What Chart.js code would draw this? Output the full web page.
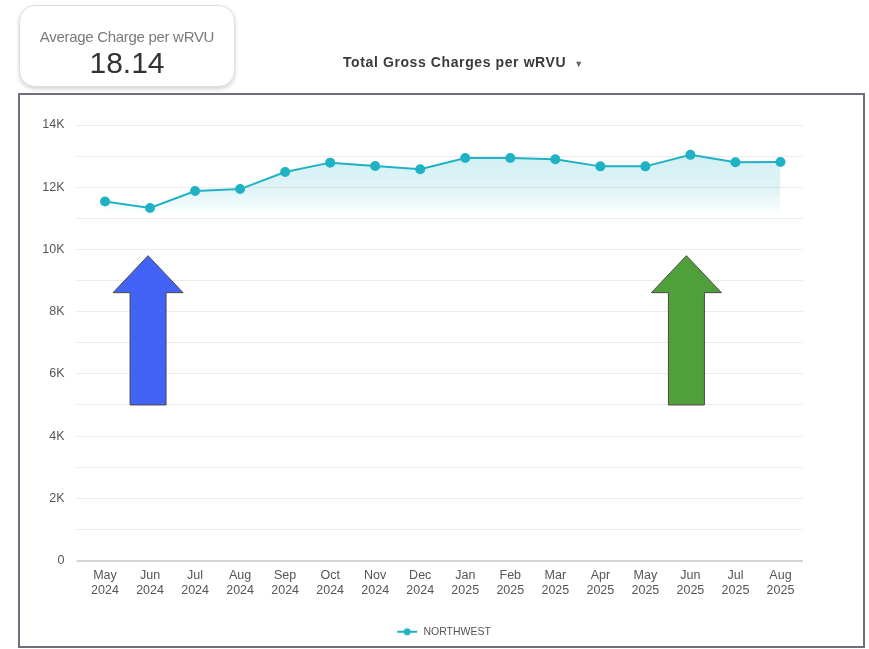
<!DOCTYPE html>
<html>
<head>
<meta charset="utf-8">
<script src="https://cdn.jsdelivr.net/npm/chart.js@4"></script>
<style>
  body { margin: 0; background: #fff; font-family: "Liberation Sans", Arial, sans-serif; }
  #wrap { position: relative; width: 869px; height: 649px; overflow: hidden; }
  #myChart { position: absolute; left: 0; top: 0; }
  .card {
    position: absolute; left: 19px; top: 5px; width: 214px; height: 80px;
    border: 1px solid #dedede; border-radius: 16px; background: #fff;
    box-shadow: 0 2px 4px rgba(0,0,0,0.18); text-align: center;
  }
  .card .lbl { margin-top: 22px; font-size: 15px; letter-spacing: -0.3px; color: #7a7a7a; }
  .card .val { margin-top: 2px; font-size: 30px; color: #333; line-height: 32px; }
  .title { position: absolute; left: 343px; top: 54px; font-size: 14px; letter-spacing: 0.6px; font-weight: bold; color: #3a3a3a; }
  .title span { font-size: 9px; margin-left: 8px; color: #666; }
  .box { position: absolute; left: 18px; top: 93px; width: 843px; height: 551px; border: 2px solid #6f6f7d; pointer-events: none; }
</style>
</head>
<body>
<div id="wrap">
  <canvas id="myChart" width="869" height="649"></canvas>
  <div class="card"><div class="lbl">Average Charge per wRVU</div><div class="val">18.14</div></div>
  <div class="title">Total Gross Charges per wRVU<span>▼</span></div>
  <div class="box"></div>
</div>
<script>
const months = ['May','Jun','Jul','Aug','Sep','Oct','Nov','Dec','Jan','Feb','Mar','Apr','May','Jun','Jul','Aug'];
const years = ['2024','2024','2024','2024','2024','2024','2024','2024','2025','2025','2025','2025','2025','2025','2025','2025'];
const northwest = [11540, 11330, 11880, 11940, 12490, 12790, 12680, 12580, 12940, 12940, 12900, 12670, 12670, 13040, 12800, 12810];
const arrowIndex = [1, 13];
const arrowTop = 9800;
const arrowBottom = 5000;
const arrowColors = ['#4263f6', '#4f9f3a'];

const labels = months.map((m, i) => [m, years[i]]);

// little line+dot marker for the legend
function legendMarker(){
    const c = document.createElement('canvas');
    c.width = 22; c.height = 10;
    const g = c.getContext('2d');
    g.strokeStyle = '#1fb2c4'; g.lineWidth = 2;
    g.beginPath(); g.moveTo(1, 5); g.lineTo(21, 5); g.stroke();
    g.fillStyle = '#1fb2c4';
    g.beginPath(); g.arc(11, 5, 3.5, 0, Math.PI * 2); g.fill();
    return c;
}

const arrows = {
    id: 'arrows',
    afterDatasetsDraw(chart){
        const ctx = chart.ctx;
        const x = chart.scales.x, y = chart.scales.y;
        arrowIndex.forEach((idx, k) => {
            const cx = x.getPixelForValue(idx) - 2 - k * 2;
            const top = y.getPixelForValue(arrowTop);
            const bot = y.getPixelForValue(arrowBottom);
            const headH = 37, headW = 35, shaftW = 18;
            ctx.save();
            ctx.beginPath();
            ctx.moveTo(cx, top);
            ctx.lineTo(cx + headW, top + headH);
            ctx.lineTo(cx + shaftW, top + headH);
            ctx.lineTo(cx + shaftW, bot);
            ctx.lineTo(cx - shaftW, bot);
            ctx.lineTo(cx - shaftW, top + headH);
            ctx.lineTo(cx - headW, top + headH);
            ctx.closePath();
            ctx.fillStyle = arrowColors[k];
            ctx.fill();
            ctx.strokeStyle = '#4a4a4a';
            ctx.lineWidth = 1;
            ctx.stroke();
            ctx.restore();
        });
    }
};

// legend sits centred under the whole box, not just the plot
const shiftLegend = {
    id: 'shiftLegend',
    afterLayout(chart){
        chart.legend.left += 42;
        chart.legend.right += 42;
    }
};

function createChart(){
    const ctx = document.getElementById('myChart');
    new Chart(ctx, {
        type: 'line',
        data: {
            labels: labels,
            datasets: [{
                label: 'NORTHWEST',
                data: northwest,
                borderColor: '#1fb2c4',
                borderWidth: 2,
                pointBackgroundColor: '#1fb2c4',
                pointBorderColor: '#1fb2c4',
                pointRadius: 4,
                tension: 0,
                fill: 'origin',
                backgroundColor: (c) => {
                    const area = c.chart.chartArea;
                    if (!area) return 'rgba(31,178,196,0.15)';
                    const y = c.chart.scales.y;
                    const grad = c.chart.ctx.createLinearGradient(0, y.getPixelForValue(13000), 0, y.getPixelForValue(11100));
                    grad.addColorStop(0, 'rgba(31,178,196,0.2)');
                    grad.addColorStop(0.6, 'rgba(31,178,196,0.13)');
                    grad.addColorStop(1, 'rgba(31,178,196,0)');
                    return grad;
                }
            }]
        },
        options: {
            responsive: false,
            animation: false,
            devicePixelRatio: 1,
            layout: { padding: { top: 125, right: 66, left: 0, bottom: 2 } },
            scales: {
                x: {
                    offset: true,
                    grid: { display: false, drawTicks: false },
                    border: { display: false },
                    ticks: {
                        padding: 8, maxRotation: 0, autoSkip: false,
                        color: '#555',
                        font: { family: '"Liberation Sans", Arial, sans-serif', size: 12.5, lineHeight: 1.2 }
                    },
                    afterFit: (s) => { s.height = 56; }
                },
                y: {
                    min: 0, max: 14000,
                    grid: {
                        drawTicks: true,
                        tickLength: 6,
                        color: (c) => c.tick.value === 0 ? '#d4d4d4' : '#ececec',
                        lineWidth: (c) => c.tick.value === 0 ? 2 : 1
                    },
                    border: { display: false },
                    ticks: {
                        stepSize: 1000, padding: 12, color: '#555',
                        font: { family: '"Liberation Sans", Arial, sans-serif', size: 12.5 },
                        callback: (v) => v % 2000 !== 0 ? '' : (v === 0 ? '0' : (v / 1000) + 'K')
                    },
                    afterFit: (s) => { s.width = 82.5; }
                }
            },
            plugins: {
                legend: {
                    position: 'bottom',
                    labels: {
                        color: '#555',
                        font: { family: '"Liberation Sans", Arial, sans-serif', size: 10.5 },
                        usePointStyle: true,
                        pointStyleWidth: 22,
                        padding: 10,
                        generateLabels: (chart) => {
                            const items = Chart.defaults.plugins.legend.labels.generateLabels(chart);
                            const mk = legendMarker();
                            items.forEach(it => { it.pointStyle = mk; });
                            return items;
                        }
                    }
                },
                tooltip: { enabled: false }
            }
        },
        plugins: [arrows, shiftLegend]
    });
}
createChart();
</script>
</body>
</html>
